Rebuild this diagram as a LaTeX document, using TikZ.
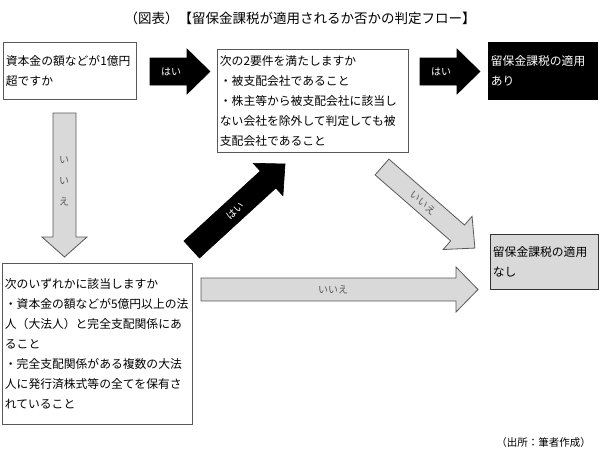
\documentclass[tikz,border=0pt]{standalone}
\usepackage{fontspec}
\setmainfont{Noto Sans CJK JP}
\definecolor{boxgray}{HTML}{595959}
\definecolor{arrowfill}{HTML}{D9D9D9}
\definecolor{labelgray}{HTML}{595959}
\newcommand{\blockarr}[8]{%
  \begin{scope}[shift={(#2,#3)},rotate=#4]
    \draw[#1] (0,-#6) -- ({#5-#8},-#6) -- ({#5-#8},-#7) -- (#5,0) -- ({#5-#8},#7) -- ({#5-#8},#6) -- (0,#6) -- cycle;
  \end{scope}}
\tikzset{
  box/.style={draw=boxgray, line width=0.8pt, fill=white, anchor=north west, inner ysep=0pt, inner xsep=2.5pt, align=left, font=\fontsize{11.8}{20}\selectfont},
  blackarr/.style={fill=black, draw=black, line width=0.6pt},
  grayarr/.style={fill=arrowfill, draw=boxgray, line width=0.8pt},
  whitelab/.style={text=white, font=\fontsize{10}{12}\selectfont, inner sep=0pt},
  graylab/.style={text=labelgray, font=\fontsize{10}{12}\selectfont, inner sep=0pt},
}
\begin{document}
\begin{tikzpicture}[x=1pt,y=-1pt]
\useasboundingbox[fill=white] (0,0) rectangle (600,456);

\node[font=\fontsize{13.5}{16}\selectfont] (title) at (300,18) {（図表）【留保金課税が適用されるか否かの判定フロー】};

% boxes
\node[box, text width=128pt, minimum height=57pt] (b1) at (3,42) {資本金の額などが1億円\\超ですか};
\node[box, text width=186pt, minimum height=103pt] (b2) at (217,49) {次の2要件を満たしますか\\・被支配会社であること\\・株主等から被支配会社に該当し\\ない会社を除外して判定しても被\\支配会社であること};
\node[box, fill=black, draw=black, text=white, text width=104pt, minimum height=57pt] (b3) at (488,42) {留保金課税の適用\\あり};
\node[box, fill=arrowfill, draw=black!80, text width=103pt, minimum height=55pt] (b4) at (490,234) {留保金課税の適用\\なし};
\node[box, text width=185pt, minimum height=161pt] (b5) at (2,263) {次のいずれかに該当しますか\\・資本金の額などが5億円以上の法\\人（大法人）と完全支配関係にあ\\ること\\・完全支配関係がある複数の大法\\人に発行済株式等の全てを保有さ\\れていること};

% arrows
\blockarr{blackarr}{150}{71.5}{0}{60}{13.5}{22.5}{23}
\blockarr{blackarr}{420}{71.5}{0}{60}{13.5}{22.5}{23}
\blockarr{grayarr}{64.5}{113}{-90}{144}{11.5}{22.5}{20}
\blockarr{blackarr}{191.7}{249.5}{42.5}{126.6}{11.5}{22}{23}
\blockarr{grayarr}{382}{167}{-41.1}{123.3}{10.5}{22}{23}
\blockarr{grayarr}{201}{289.5}{0}{277}{11.5}{22.5}{22}

% arrow labels
\node[whitelab] (l1) at (171,72) {はい};
\node[whitelab] (l2) at (441,72) {はい};
\node[graylab, align=center, font=\fontsize{10}{21}\selectfont] (l3) at (64,181) {い\\い\\え};
\node[whitelab, rotate=42.5] (l4) at (235,211) {はい};
\node[graylab, rotate=-41.1] (l5) at (423,203) {いいえ};
\node[graylab] (l6) at (333,290) {いいえ};

\node[anchor=east, font=\fontsize{10.5}{12}\selectfont, inner sep=0pt] (src) at (591,443) {（出所：筆者作成）};
\end{tikzpicture}
\end{document}
